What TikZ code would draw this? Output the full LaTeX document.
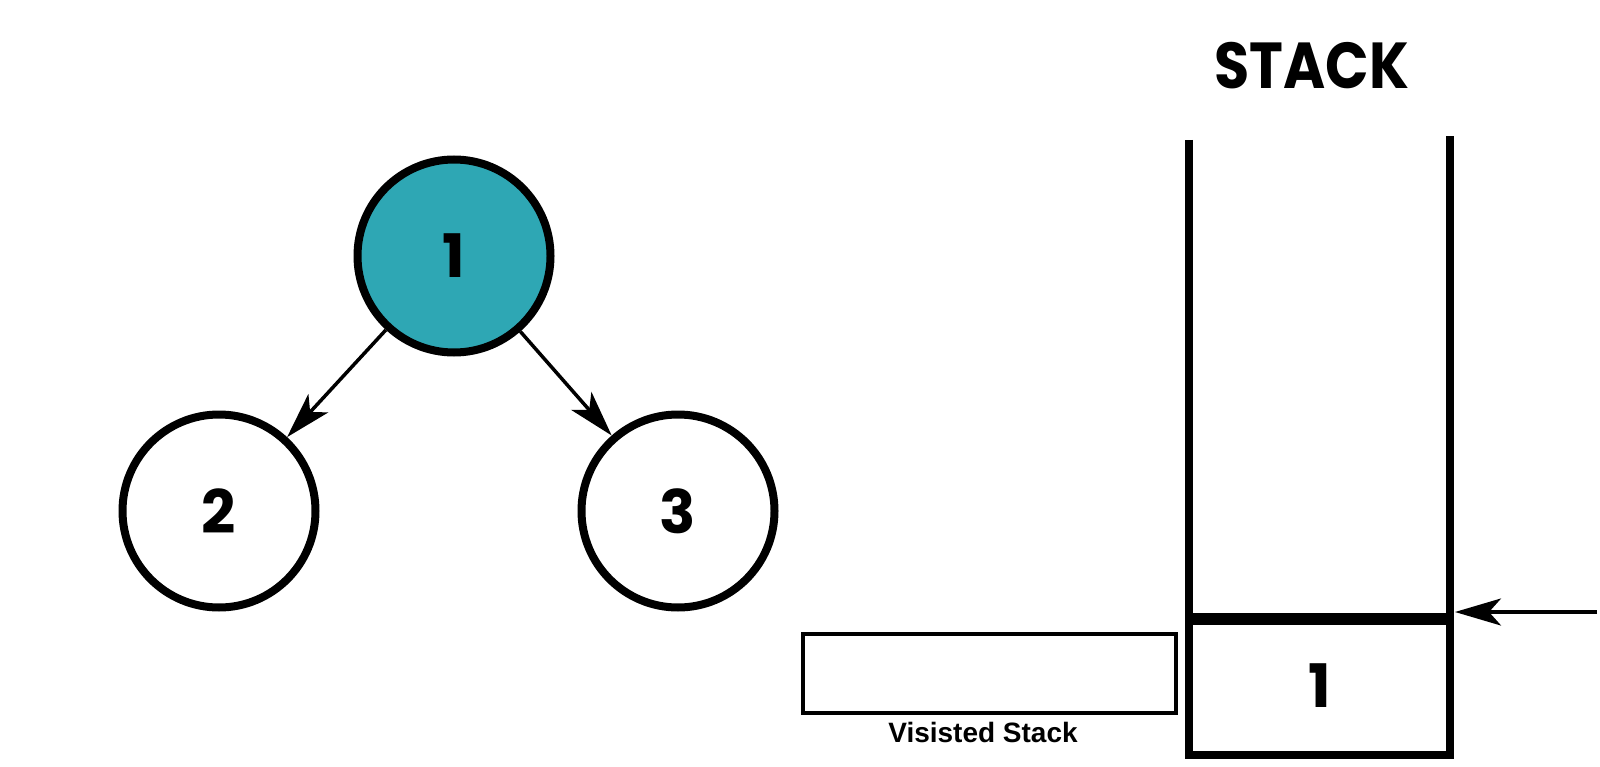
\documentclass[tikz,border=0pt]{standalone}
\usepackage{fontspec}
\usepackage{graphicx}
\setmainfont{Poppins}
\newfontfamily\labelfont{Liberation Sans}
\usetikzlibrary{arrows.meta}
\definecolor{teal1}{RGB}{46,167,180}
\tikzset{
  vertex/.style={circle, draw=black, line width=8pt, minimum size=193pt, inner sep=0pt,
    font=\fontsize{60}{60}\selectfont\bfseries},
  headtip/.style={-{Stealth[length=46pt,width=27pt,inset=12pt,fill=black]}},
  edge/.style={draw=black, line width=3.5pt, headtip},
  wall/.style={line width=8pt, line join=miter, line cap=butt},
  pusharrow/.style={draw=black, line width=3.5pt, headtip},
}
\begin{document}
\begin{tikzpicture}[x=1pt,y=-1pt]
\fill[white] (0,0) rectangle (1600,767);
\useasboundingbox (0,0) rectangle (1600,767);
% graph
\node[vertex, fill=teal1] (n1) at (454,256) {1};
\node[vertex] (n2) at (219,511) {2};
\node[vertex] (n3) at (678,511) {3};
\draw[edge] (n1) -- (n2);
\draw[edge] (n1) -- (n3);
% stack
\node[font=\fontsize{65}{65}\selectfont\bfseries, inner sep=0pt] (title) at (1312,66) {\scalebox{0.88}[1]{STACK}};
\draw[wall] (1189,140) -- (1189,755) -- (1450,755) -- (1450,136);
\node[inner sep=0pt, minimum width=261pt, minimum height=136pt] (cell) at (1319.5,687) {};
\node[font=\fontsize{60}{60}\selectfont\bfseries, inner sep=0pt] (one) at (1320,686) {1};
\draw[line width=12pt] (cell.north west) -- (cell.north east);
\coordinate (src) at (1597,612);
\coordinate (tip) at (1455,612);
\draw[pusharrow] (src) -- (tip);
% visited
\node[draw=black, line width=4pt, minimum width=373pt, minimum height=79pt, inner sep=0pt] (visited) at (989.5,673.5) {};
\node[font=\labelfont\fontsize{28}{28}\selectfont\bfseries, anchor=base, inner sep=0pt] (vlabel) at (983,742) {Visisted Stack};
\end{tikzpicture}
\end{document}
